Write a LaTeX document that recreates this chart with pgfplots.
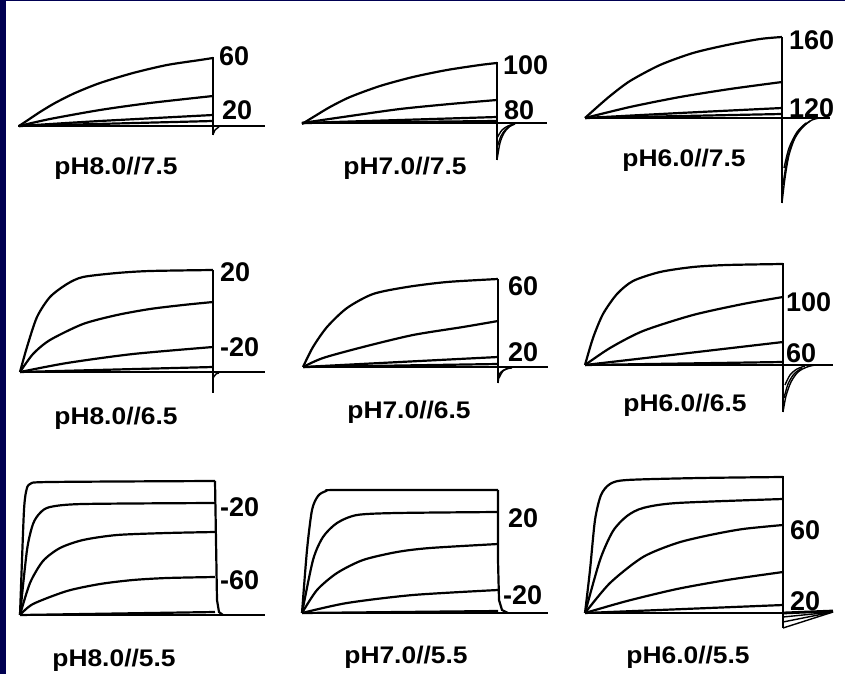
\documentclass[border=0pt]{standalone}
\usepackage{fontspec}
\setmainfont{Liberation Sans}
\newfontfamily\wide[FakeStretch=1.1]{Liberation Sans}
\usepackage{pgfplots}
\pgfplotsset{compat=1.18}
\definecolor{navy}{RGB}{0,0,82}
\newcommand{\vlab}[1]{{\fontsize{27}{27}\selectfont\bfseries #1}}
\newcommand{\plab}[1]{{\wide\fontsize{24}{24}\selectfont\bfseries #1}}
\pgfplotsset{
  tr/.style={black, line width=2.2pt, smooth, tension=0.45, no markers, line join=round},
  base/.style={black, line width=2.8pt, no markers},
  bar/.style={black, line width=2.2pt, no markers},
  tail/.style={black, line width=1.4pt, smooth, tension=0.5, no markers},
}
\begin{document}
\begin{tikzpicture}
\begin{axis}[
  scale only axis, width=845pt, height=674pt,
  xmin=0, xmax=845, ymin=0, ymax=674, y dir=reverse,
  axis lines=none, clip=false,
  axis background/.style={fill=white},
]
% slide frame
\fill[navy] (axis cs:0,0) rectangle (axis cs:6,674);
\fill[navy] (axis cs:0,0) rectangle (axis cs:845,1.5);

% ---------- pH8.0//7.5 ----------
\addplot[base] coordinates {(18,126) (265,126)};
\addplot[bar] coordinates {(213,57) (213,135)};
\addplot[tr] coordinates {(19,126) (28,120) (40,112) (55,103) (75,93) (100,83) (133,73) (167,65) (200,60) (213,58)};
\addplot[tr] coordinates {(19,126) (50,119) (100,110) (150,103) (213,96)};
\addplot[tr] coordinates {(19,126) (100,121) (213,115)};
\addplot[tr] coordinates {(19,126) (213,121)};
\addplot[tail] coordinates {(213,135) (215,130) (219,127)};
\node[anchor=west, inner sep=0] at (axis cs:219,56) {\vlab{60}};
\node[anchor=west, inner sep=0] at (axis cs:222,110) {\vlab{20}};
\node[inner sep=0] at (axis cs:116,168) {\plab{pH8.0//7.5}};

% ---------- pH7.0//7.5 ----------
\addplot[base] coordinates {(302,123) (547,123)};
\addplot[bar] coordinates {(497,62) (497,160)};
\addplot[tr] coordinates {(302,124) (315,116) (330,107) (350,97) (380,86) (413,77) (447,70) (480,65) (497,63)};
\addplot[tr] coordinates {(302,123) (350,116) (400,109) (450,104) (497,100)};
\addplot[tr] coordinates {(302,123) (400,120) (497,117)};
\addplot[tr] coordinates {(302,123) (497,121)};
\addplot[tail] coordinates {(497,160) (500,143) (504,133) (509,127) (515,124)};
\addplot[tail] coordinates {(497,148) (501,136) (506,129) (512,125)};
\addplot[tail] coordinates {(497,138) (502,130) (508,126) (514,124)};
\node[anchor=west, inner sep=0] at (axis cs:503,65) {\vlab{100}};
\node[anchor=west, inner sep=0] at (axis cs:504,110) {\vlab{80}};
\node[inner sep=0] at (axis cs:405,168) {\plab{pH7.0//7.5}};

% ---------- pH6.0//7.5 ----------
\addplot[base] coordinates {(585,118) (830,118)};
\addplot[bar] coordinates {(782,37) (782,203)};
\addplot[tr] coordinates {(585,118) (595,109) (610,96) (630,81) (660,65) (693,53) (727,45) (760,39) (782,37)};
\addplot[tr] coordinates {(585,118) (630,107) (680,97) (730,89) (782,82)};
\addplot[tr] coordinates {(585,118) (680,113) (782,108)};
\addplot[tr] coordinates {(585,118) (782,114)};
\addplot[tail] coordinates {(782,203) (785,178) (789,155) (795,138) (803,127) (812,120) (820,118)};
\addplot[tail] coordinates {(783,185) (787,160) (793,141) (801,128) (810,121)};
\addplot[tail] coordinates {(784,168) (789,148) (797,132) (806,123)};
\node[anchor=west, inner sep=0] at (axis cs:789,40) {\vlab{160}};
\node[anchor=west, inner sep=0] at (axis cs:789,108) {\vlab{120}};
\node[inner sep=0] at (axis cs:684,160) {\plab{pH6.0//7.5}};

% ---------- pH8.0//6.5 ----------
\addplot[base] coordinates {(20,372) (265,372)};
\addplot[bar] coordinates {(213,270) (213,393)};
\addplot[tr] coordinates {(20,372) (27,347) (37,317) (50,297) (67,284) (83,277) (117,273) (150,271) (213,270)};
\addplot[tr] coordinates {(20,372) (33,354) (50,340) (83,324) (117,315) (150,309) (183,305) (213,302)};
\addplot[tr] coordinates {(20,372) (67,363) (133,354) (213,347)};
\addplot[tr] coordinates {(20,372) (213,367)};
\addplot[tail] coordinates {(213,378) (216,374) (219,373)};
\node[anchor=west, inner sep=0] at (axis cs:220,272) {\vlab{20}};
\node[anchor=west, inner sep=0] at (axis cs:220,347) {\vlab{-20}};
\node[inner sep=0] at (axis cs:116,418) {\plab{pH8.0//6.5}};

% ---------- pH7.0//6.5 ----------
\addplot[base] coordinates {(303,367) (548,367)};
\addplot[bar] coordinates {(498,279) (498,383)};
\addplot[tr] coordinates {(303,367) (313,347) (327,327) (347,308) (373,294) (407,287) (447,282) (498,279)};
\addplot[tr] coordinates {(303,367) (323,358) (363,347) (413,335) (463,327) (498,321)};
\addplot[tr] coordinates {(303,367) (400,362) (498,357)};
\addplot[tr] coordinates {(303,367) (498,364)};
\addplot[tail] coordinates {(498,383) (500,373) (506,369) (512,368)};
\addplot[tail] coordinates {(499,378) (503,371) (509,368)};
\node[anchor=west, inner sep=0] at (axis cs:508,286) {\vlab{60}};
\node[anchor=west, inner sep=0] at (axis cs:508,352) {\vlab{20}};
\node[inner sep=0] at (axis cs:409,412) {\plab{pH7.0//6.5}};

% ---------- pH6.0//6.5 ----------
\addplot[base] coordinates {(585,365) (833,365)};
\addplot[bar] coordinates {(783,263) (783,412)};
\addplot[tr] coordinates {(585,365) (593,338) (603,314) (617,294) (633,281) (660,272) (693,267) (727,265) (783,264)};
\addplot[tr] coordinates {(585,365) (610,348) (643,331) (693,315) (743,304) (783,297)};
\addplot[tr] coordinates {(585,365) (680,354) (783,342)};
\addplot[tr] coordinates {(585,365) (783,362)};
\addplot[tail] coordinates {(783,412) (786,396) (791,382) (798,372) (807,367) (815,365)};
\addplot[tail] coordinates {(784,398) (788,384) (794,374) (802,368)};
\addplot[tail] coordinates {(785,385) (790,375) (797,369) (805,366)};
\node[anchor=west, inner sep=0] at (axis cs:786,302) {\vlab{100}};
\node[anchor=west, inner sep=0] at (axis cs:786,353) {\vlab{60}};
\node[inner sep=0] at (axis cs:685,405) {\plab{pH6.0//6.5}};

% ---------- pH8.0//5.5 ----------
\addplot[base] coordinates {(20,615) (265,615)};
\addplot[bar] coordinates {(215,481) (216,540) (217,600) (219,612) (223,615)};
\addplot[tr] coordinates {(20,615) (22,560) (24,510) (26,492) (30,484) (50,482) (215,481)};
\addplot[tr] coordinates {(20,615) (27,550) (33,524) (40,513) (50,507) (83,504) (215,503)};
\addplot[tr] coordinates {(20,615) (30,583) (43,561) (60,548) (83,540) (117,535) (167,533) (215,532)};
\addplot[tr] coordinates {(20,615) (33,604) (67,591) (100,584) (133,580) (167,578) (215,577)};
\addplot[tr] coordinates {(20,615) (215,612)};
\node[anchor=west, inner sep=0] at (axis cs:220,507) {\vlab{-20}};
\node[anchor=west, inner sep=0] at (axis cs:220,580) {\vlab{-60}};
\node[inner sep=0] at (axis cs:114,660) {\plab{pH8.0//5.5}};

% ---------- pH7.0//5.5 ----------
\addplot[base] coordinates {(302,613) (548,613)};
\addplot[bar] coordinates {(498,490) (498,560) (499,600) (502,610) (508,613)};
\addplot[tr] coordinates {(302,613) (307,550) (312,510) (318,496) (326,491) (340,490) (498,490)};
\addplot[tr] coordinates {(302,613) (313,560) (323,537) (337,523) (357,515) (397,513) (498,512)};
\addplot[tr] coordinates {(302,613) (317,590) (337,573) (363,560) (397,552) (430,548) (498,544)};
\addplot[tr] coordinates {(302,613) (347,603) (413,595) (498,590)};
\addplot[tr] coordinates {(302,613) (498,611)};
\node[anchor=west, inner sep=0] at (axis cs:508,518) {\vlab{20}};
\node[anchor=west, inner sep=0] at (axis cs:503,595) {\vlab{-20}};
\node[inner sep=0] at (axis cs:406,657) {\plab{pH7.0//5.5}};

% ---------- pH6.0//5.5 ----------
\addplot[base] coordinates {(585,613) (783,613)};
\addplot[bar] coordinates {(783,476) (783,628)};
\addplot[tr] coordinates {(585,613) (590,570) (595,520) (601,495) (610,484) (627,480) (700,478) (783,477)};
\addplot[tr] coordinates {(585,613) (600,560) (613,531) (627,516) (643,508) (677,503) (783,499)};
\addplot[tr] coordinates {(585,613) (610,583) (643,557) (677,543) (710,535) (743,529) (783,525)};
\addplot[tr] coordinates {(585,613) (627,601) (677,589) (727,580) (783,572)};
\addplot[tr] coordinates {(585,613) (783,605)};
\addplot[tail] coordinates {(783,628) (833,612)};
\addplot[tail] coordinates {(783,622) (833,612)};
\addplot[tail] coordinates {(783,617) (833,612)};
\addplot[base] coordinates {(783,613) (833,611)};
\node[anchor=west, inner sep=0] at (axis cs:790,530) {\vlab{60}};
\node[anchor=west, inner sep=0] at (axis cs:790,601) {\vlab{20}};
\node[inner sep=0] at (axis cs:688,657) {\plab{pH6.0//5.5}};
\end{axis}
\end{tikzpicture}
\end{document}
